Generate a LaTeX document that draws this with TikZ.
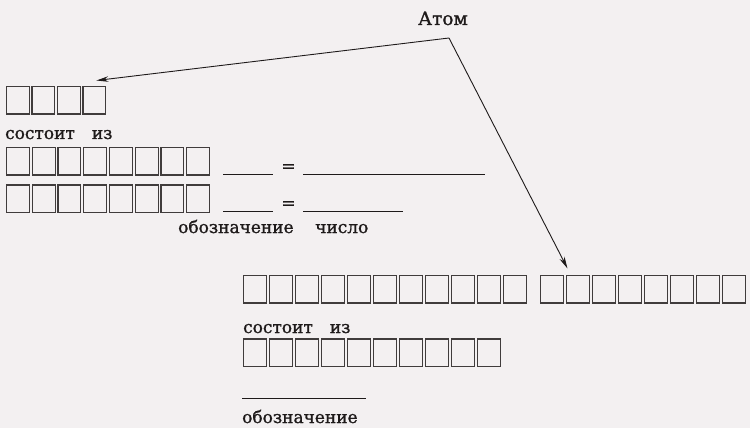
\documentclass[tikz,border=0pt]{standalone}
\usepackage{fontspec}
\setmainfont{DejaVu Serif}
\newfontfamily\lblfont[FakeBold=1.2]{DejaVu Serif}
\usetikzlibrary{arrows.meta}
\definecolor{paper}{RGB}{243,240,241}
\definecolor{ink}{RGB}{30,26,26}
\tikzset{
  letterbox/.style={draw=ink!85, line width=1.1pt, minimum width=22.8pt, minimum height=27.5pt, inner sep=0pt, outer sep=0pt, anchor=north west},
  lbl/.style={font=\lblfont\fontsize{17}{19}\selectfont, text=ink, inner sep=0pt, anchor=base west},
  ansline/.style={draw=ink, line width=1pt},
  pointer/.style={draw=ink, line width=0.9pt, -{Stealth[length=12pt,width=5.5pt]}}
}
\begin{document}
\begin{tikzpicture}[x=1pt,y=-1pt]
\fill[paper] (0,0) rectangle (750,428);
\useasboundingbox (0,0) rectangle (750,428);
% row 1
\foreach \i in {1,...,4} \node[letterbox] (ra\i) at ({6.5+(\i-1)*25.5},86.5) {};
\node[lbl] (s1) at (5,139) {состоит\hspace{17pt}из};
\foreach \i in {1,...,8} \node[letterbox] (rb\i) at ({6.5+(\i-1)*25.75},147.5) {};
\foreach \i in {1,...,8} \node[letterbox] (rc\i) at ({6.5+(\i-1)*25.75},185) {};
% answer lines
\coordinate (l1a) at (223,174); \coordinate (l1b) at (273,174);
\coordinate (l2a) at (303,174); \coordinate (l2b) at (485,174);
\coordinate (l3a) at (223,211); \coordinate (l3b) at (273,211);
\coordinate (l4a) at (303,211); \coordinate (l4b) at (403,211);
\draw[ansline] (l1a) -- (l1b); \draw[ansline] (l2a) -- (l2b);
\draw[ansline] (l3a) -- (l3b); \draw[ansline] (l4a) -- (l4b);
\node[lbl, anchor=center] (eq1) at (288.5,168) {=};
\node[lbl, anchor=center] (eq2) at (288.5,205) {=};
\node[lbl] (obz1) at (178,233) {обозначение};
\node[lbl] (chis) at (315,233) {число};
% bottom
\foreach \i in {1,...,11} \node[letterbox] (rd\i) at ({243.5+(\i-1)*26},275.5) {};
\foreach \i in {1,...,8} \node[letterbox] (re\i) at ({540.5+(\i-1)*26},275.5) {};
\node[lbl] (s2) at (243,333) {состоит\hspace{17pt}из};
\foreach \i in {1,...,10} \node[letterbox] (rf\i) at ({243.5+(\i-1)*26},339) {};
\coordinate (l5a) at (242,398); \coordinate (l5b) at (366,398);
\draw[ansline] (l5a) -- (l5b);
\node[lbl] (obz2) at (242,423) {обозначение};
% title and pointers
\node[lbl, anchor=base, font=\lblfont\fontsize{18.5}{20}\selectfont] (atom) at (443,25) {Атом};
\coordinate (apex) at (449,38);
\draw[pointer] (apex) -- ([xshift=2pt,yshift=6pt]ra4.north);
\draw[pointer] (apex) -- ([xshift=1pt,yshift=7pt]re2.north west);
\end{tikzpicture}
\end{document}
